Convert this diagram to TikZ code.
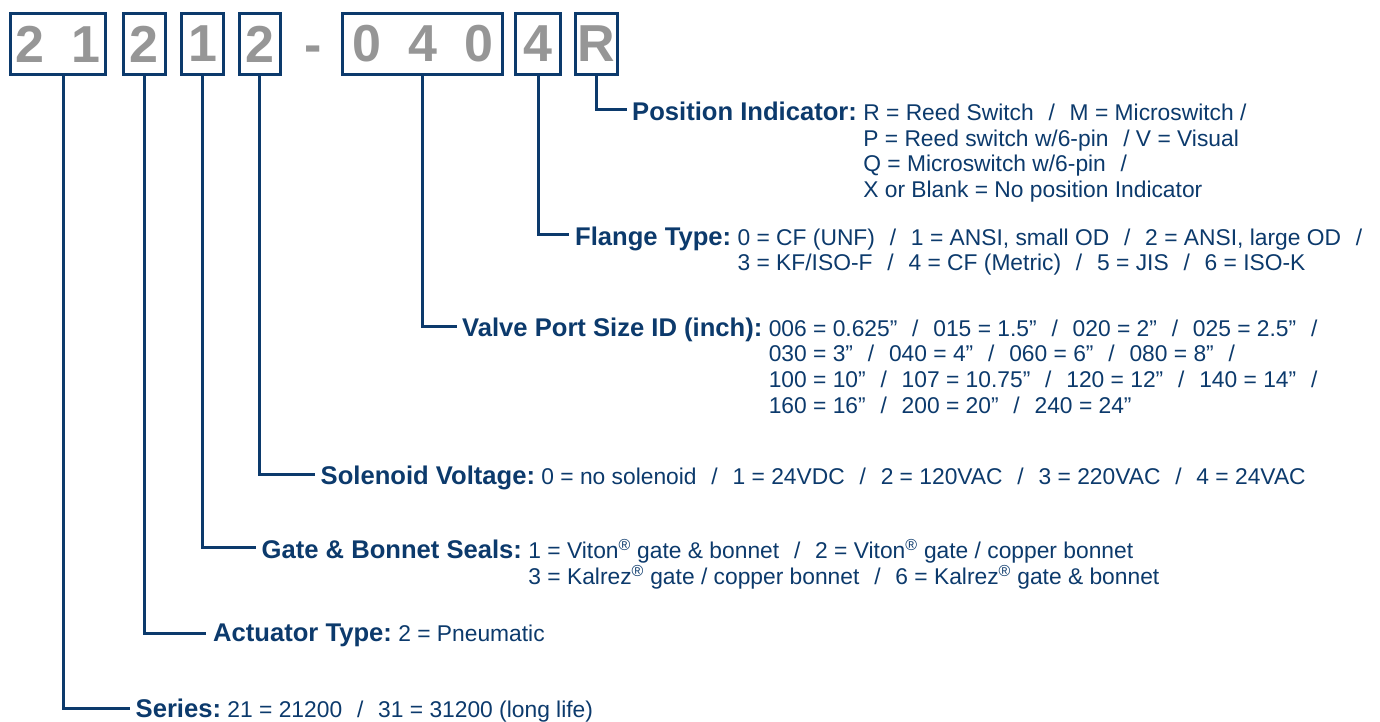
\documentclass[tikz,border=0pt]{standalone}
\usepackage{fontspec}
\setmainfont{Liberation Sans}
\usetikzlibrary{positioning}
\definecolor{codenavy}{RGB}{12,58,108}
\definecolor{digitgray}{RGB}{150,150,150}
\newcommand{\dgap}{\hspace{27pt}}
\newcommand{\sep}{\hspace{0.65em}/\hspace{0.65em}}

\begin{document}
\begin{tikzpicture}[x=1pt, y=-1pt,
    digit/.style={draw=codenavy, line width=3pt, fill=white, minimum width=#1, minimum height=61pt, inner sep=0pt, text=digitgray, font=\fontsize{52}{52}\selectfont\bfseries},
    head/.style={anchor=base west, inner sep=0pt, text=codenavy, font=\fontsize{25.6}{30}\selectfont\bfseries},
    body/.style={anchor=base west, inner sep=0pt, text=codenavy, font=\fontsize{22.8}{25.7}\selectfont},
    link/.style={draw=codenavy, line width=3pt},
]
\path[fill=white] (0,0) rectangle (1380,722);

% the code boxes
\node[digit=95pt] (series) at (58.3,44) {2\dgap1};
\node[digit=42pt] (actuator) at (144.3,44) {2};
\node[digit=42pt] (seals) at (202.8,44) {1};
\node[digit=41pt] (voltage) at (259.6,44) {2};
\node[anchor=base, inner sep=0pt, text=digitgray, font=\fontsize{52}{52}\selectfont\bfseries] (dash) at (313,62.6) {-};
\node[digit=160pt] (port) at (422.8,44) {0\dgap4\dgap0};
\node[digit=45pt] (flange) at (538.4,44) {4};
\node[digit=42pt] (posind) at (596.3,44) {R};

% the explanations
\node[head] (posHead) at (632,120.5) {Position Indicator:};
\node[body, base right=6pt of posHead] (posText) {\begin{tabular}[t]{@{}l@{}}R = Reed Switch\sep M = Microswitch /\\P = Reed switch w/6-pin\hspace{0.65em}/ V = Visual\\Q = Microswitch w/6-pin\hspace{0.65em}/\\X or Blank = No position Indicator\end{tabular}};

\node[head] (flangeHead) at (575,245) {Flange Type:};
\node[body, base right=6pt of flangeHead] (flangeText) {\begin{tabular}[t]{@{}l@{}}0 = CF (UNF)\sep 1 = ANSI, small OD\sep 2 = ANSI, large OD\hspace{0.65em}/\\3 = KF/ISO-F\sep 4 = CF (Metric)\sep 5 = JIS\sep 6 = ISO-K\end{tabular}};

\node[head] (portHead) at (462,336) {Valve Port Size ID (inch):};
\node[body, base right=6pt of portHead] (portText) {\begin{tabular}[t]{@{}l@{}}006 = 0.625”\sep 015 = 1.5”\sep 020 = 2”\sep 025 = 2.5”\hspace{0.65em}/\\030 = 3”\sep 040 = 4”\sep 060 = 6”\sep 080 = 8”\hspace{0.65em}/\\100 = 10”\sep 107 = 10.75”\sep 120 = 12”\sep 140 = 14”\hspace{0.65em}/\\160 = 16”\sep 200 = 20”\sep 240 = 24”\end{tabular}};

\node[head] (voltHead) at (320.5,484) {Solenoid Voltage:};
\node[body, base right=6pt of voltHead] (voltText) {0 = no solenoid\sep 1 = 24VDC\sep 2 = 120VAC\sep 3 = 220VAC\sep 4 = 24VAC};

\node[head] (sealsHead) at (261.5,558) {Gate \& Bonnet Seals:};
\node[body, base right=6pt of sealsHead] (sealsText) {\begin{tabular}[t]{@{}l@{}}1 = Viton\textsuperscript{\textregistered} gate \& bonnet\sep 2 = Viton\textsuperscript{\textregistered} gate / copper bonnet\\3 = Kalrez\textsuperscript{\textregistered} gate / copper bonnet\sep 6 = Kalrez\textsuperscript{\textregistered} gate \& bonnet\end{tabular}};

\node[head] (actHead) at (213,641) {Actuator Type:};
\node[body, base right=6pt of actHead] (actText) {2 = Pneumatic};

\node[head] (seriesHead) at (135.5,717) {Series:};
\node[body, base right=6pt of seriesHead] (seriesText) {21 = 21200\sep 31 = 31200 (long life)};

% leader lines
\draw[link] (posind.south) |- ([xshift=-5pt,yshift=11pt]posHead.base west);
\draw[link] (flange.south) |- ([xshift=-6pt,yshift=11pt]flangeHead.base west);
\draw[link] (port.south) |- ([xshift=-5pt,yshift=10pt]portHead.base west);
\draw[link] (voltage.south) |- ([xshift=-6pt,yshift=10pt]voltHead.base west);
\draw[link] (seals.south) |- ([xshift=-6pt,yshift=11pt]sealsHead.base west);
\draw[link] (actuator.south) |- ([xshift=-7pt,yshift=8pt]actHead.base west);
\draw[link] ([xshift=4.7pt]series.south) |- ([xshift=-6pt,yshift=9pt]seriesHead.base west);
\end{tikzpicture}
\end{document}
